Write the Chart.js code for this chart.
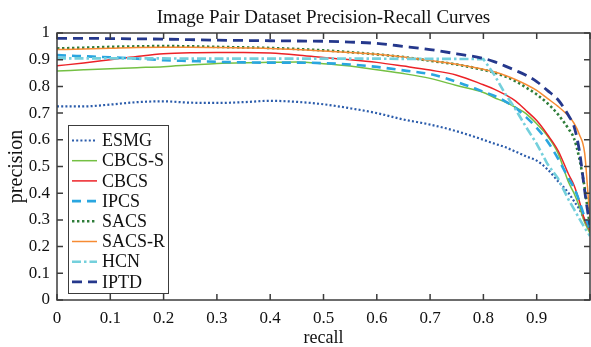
<!DOCTYPE html>
<html>
<head>
<meta charset="utf-8">
<script src="https://cdn.jsdelivr.net/npm/chart.js@4.4.0/dist/chart.umd.min.js"></script>
<style>
html, body { margin: 0; padding: 0; background: #fff; }
#wrap { width: 591px; height: 347px; }
</style>
</head>
<body>
<div id="wrap"><canvas id="prChart"></canvas></div>
<script>
// recall sample points shared by every curve
const recall = [0, 0.05, 0.1, 0.15, 0.2, 0.25, 0.3, 0.35, 0.4, 0.45, 0.5, 0.55, 0.6, 0.65, 0.7, 0.75,
                0.8, 0.82, 0.84, 0.86, 0.88, 0.9, 0.92, 0.94, 0.96, 0.97, 0.98, 0.99, 0.995, 1];

const esmg  = [0.725, 0.725, 0.732, 0.741, 0.744, 0.739, 0.738, 0.741, 0.746, 0.742, 0.733, 0.718, 0.7, 0.676, 0.657, 0.632,
               0.6, 0.586, 0.573, 0.556, 0.538, 0.522, 0.49, 0.445, 0.4, 0.37, 0.34, 0.3, 0.28, 0.26];
const cbcsS = [0.858, 0.862, 0.866, 0.87, 0.874, 0.88, 0.886, 0.889, 0.89, 0.891, 0.885, 0.876, 0.862, 0.848, 0.83, 0.803,
               0.777, 0.758, 0.742, 0.722, 0.698, 0.66, 0.615, 0.55, 0.44, 0.4, 0.35, 0.29, 0.27, 0.25];
const cbcs  = [0.877, 0.888, 0.9, 0.912, 0.922, 0.926, 0.927, 0.927, 0.925, 0.918, 0.908, 0.9, 0.89, 0.876, 0.861, 0.842,
               0.806, 0.79, 0.77, 0.746, 0.71, 0.672, 0.62, 0.56, 0.47, 0.43, 0.37, 0.3, 0.28, 0.26];
const ipcs  = [0.917, 0.913, 0.909, 0.904, 0.898, 0.895, 0.892, 0.89, 0.889, 0.889, 0.887, 0.882, 0.873, 0.86, 0.846, 0.817,
               0.78, 0.765, 0.745, 0.72, 0.685, 0.645, 0.595, 0.53, 0.455, 0.42, 0.37, 0.31, 0.29, 0.26];
const sacs  = [0.942, 0.945, 0.948, 0.95, 0.951, 0.95, 0.948, 0.946, 0.944, 0.94, 0.935, 0.928, 0.92, 0.91, 0.896, 0.882,
               0.862, 0.852, 0.838, 0.82, 0.796, 0.77, 0.737, 0.695, 0.64, 0.605, 0.53, 0.42, 0.35, 0.27];
const sacsR = [0.938, 0.94, 0.943, 0.946, 0.947, 0.947, 0.946, 0.944, 0.942, 0.938, 0.933, 0.927, 0.92, 0.91, 0.897, 0.883,
               0.864, 0.855, 0.842, 0.826, 0.807, 0.785, 0.755, 0.725, 0.688, 0.662, 0.62, 0.55, 0.43, 0.3];
const hcn   = [0.905, 0.905, 0.905, 0.905, 0.905, 0.904, 0.904, 0.904, 0.904, 0.904, 0.904, 0.904, 0.904, 0.903, 0.903, 0.903,
               0.902, 0.845, 0.775, 0.715, 0.648, 0.585, 0.51, 0.455, 0.375, 0.34, 0.305, 0.27, 0.255, 0.24];
const iptd  = [0.98, 0.98, 0.979, 0.978, 0.977, 0.975, 0.973, 0.972, 0.971, 0.97, 0.969, 0.966, 0.961, 0.95, 0.938, 0.922,
               0.905, 0.893, 0.877, 0.86, 0.842, 0.818, 0.785, 0.75, 0.69, 0.65, 0.56, 0.41, 0.34, 0.28];

const methods = ['ESMG', 'CBCS-S', 'CBCS', 'IPCS', 'SACS', 'SACS-R', 'HCN', 'IPTD'];
const precisions = [esmg, cbcsS, cbcs, ipcs, sacs, sacsR, hcn, iptd];

const styles = [
    { color: '#2b5cab', width: 2.2, dash: [2, 2.2] },
    { color: '#74c043', width: 1.5, dash: [] },
    { color: '#ec2227', width: 1.5, dash: [] },
    { color: '#2aa6e0', width: 2.6, dash: [9, 6] },
    { color: '#2f7d3a', width: 2.6, dash: [2.4, 2.6] },
    { color: '#f68b33', width: 1.5, dash: [] },
    { color: '#74d0dc', width: 2.6, dash: [9, 3, 2.5, 3] },
    { color: '#25388c', width: 2.8, dash: [10, 6] }
];

const serif = "'Liberation Serif', 'Times New Roman', serif";
const chartTitle = 'Image Pair Dataset Precision-Recall Curves';

const datasets = methods.map((name, i) => ({
    label: name,
    data: recall.map((r, j) => ({ x: r, y: precisions[i][j] })),
    borderColor: styles[i].color,
    borderWidth: styles[i].width,
    borderDash: styles[i].dash,
    pointRadius: 0,
    fill: false,
    cubicInterpolationMode: name === 'HCN' ? 'default' : 'monotone',
    tension: 0,
    order: methods.length - i
}));

// title centred over the plot area rather than the whole canvas
const plotTitle = {
    id: 'plotTitle',
    afterDraw(chart) {
        const { ctx, chartArea: a } = chart;
        ctx.save();
        ctx.font = '19px ' + serif;
        ctx.fillStyle = '#111';
        ctx.textAlign = 'center';
        ctx.textBaseline = 'alphabetic';
        ctx.fillText(chartTitle, (a.left + a.right) / 2, 23);
        ctx.restore();
    }
};

// box around the plot with inward tick marks on all four sides
const frameTicks = {
    id: 'frameTicks',
    afterDatasetsDraw(chart) {
        const { ctx, chartArea: a, scales: { x, y } } = chart;
        ctx.save();
        ctx.strokeStyle = '#3c3c3c';
        ctx.lineWidth = 1.5;
        ctx.setLineDash([]);
        ctx.strokeRect(a.left, a.top, a.right - a.left, a.bottom - a.top);
        ctx.beginPath();
        x.ticks.forEach((t, i) => {
            const px = x.getPixelForTick(i);
            ctx.moveTo(px, a.bottom); ctx.lineTo(px, a.bottom - 6);
            ctx.moveTo(px, a.top); ctx.lineTo(px, a.top + 6);
        });
        y.ticks.forEach((t, i) => {
            const py = y.getPixelForTick(i);
            ctx.moveTo(a.left, py); ctx.lineTo(a.left + 6, py);
            ctx.moveTo(a.right, py); ctx.lineTo(a.right - 6, py);
        });
        ctx.stroke();
        ctx.restore();
    }
};

// legend box in the lower-left corner of the plot
const boxLegend = {
    id: 'boxLegend',
    afterDraw(chart) {
        const { ctx, chartArea: a } = chart;
        const left = a.left + 11, top = a.top + 92, w = 100, h = 168;
        ctx.save();
        ctx.fillStyle = '#fff';
        ctx.fillRect(left, top, w, h);
        ctx.strokeStyle = '#3c3c3c';
        ctx.lineWidth = 1;
        ctx.strokeRect(left + 0.5, top + 0.5, w, h);
        ctx.font = '18px ' + serif;
        ctx.textBaseline = 'middle';
        chart.data.datasets.forEach((ds, i) => {
            const cy = top + 15.5 + i * 20.2;
            ctx.beginPath();
            ctx.strokeStyle = ds.borderColor;
            ctx.lineWidth = ds.borderWidth;
            ctx.setLineDash(ds.borderDash);
            ctx.moveTo(left + 4, cy);
            ctx.lineTo(left + 29, cy);
            ctx.stroke();
            ctx.setLineDash([]);
            ctx.fillStyle = '#111';
            ctx.fillText(ds.label, left + 34, cy + 1);
        });
        ctx.restore();
    }
};

new Chart(document.getElementById('prChart'), {
    type: 'line',
    data: { datasets: datasets },
    options: {
        responsive: true,
        maintainAspectRatio: false,
        animation: false,
        layout: { padding: { left: 0, right: 1, top: 33, bottom: 0 } },
        plugins: {
            legend: { display: false },
            tooltip: { enabled: false },
            title: { display: false }
        },
        scales: {
            x: {
                type: 'linear',
                min: 0,
                max: 1,
                afterFit(scale) {
                    scale.height = 47;
                    scale.paddingLeft = 0;
                    scale.paddingRight = 0;
                },
                grid: { display: false, drawTicks: false },
                border: { display: false },
                ticks: {
                    stepSize: 0.1,
                    autoSkip: false,
                    maxRotation: 0,
                    padding: 8,
                    color: '#111',
                    font: { family: serif, size: 17 },
                    callback: v => (v >= 1 ? '' : String(+v.toFixed(1)))
                },
                title: {
                    display: true,
                    text: 'recall',
                    color: '#111',
                    font: { family: serif, size: 18, lineHeight: 1 },
                    padding: { top: 0, bottom: 0 }
                }
            },
            y: {
                min: 0,
                max: 1,
                afterFit(scale) {
                    scale.width = 57;
                    scale.paddingTop = 0;
                    scale.paddingBottom = 0;
                },
                grid: { display: false, drawTicks: false },
                border: { display: false },
                ticks: {
                    stepSize: 0.1,
                    padding: 7,
                    color: '#111',
                    font: { family: serif, size: 17 },
                    callback: v => String(+v.toFixed(1))
                },
                title: {
                    display: true,
                    text: 'precision',
                    color: '#111',
                    font: { family: serif, size: 20 },
                    padding: { top: 5, bottom: 0 }
                }
            }
        }
    },
    plugins: [frameTicks, boxLegend, plotTitle]
});
</script>
</body>
</html>
